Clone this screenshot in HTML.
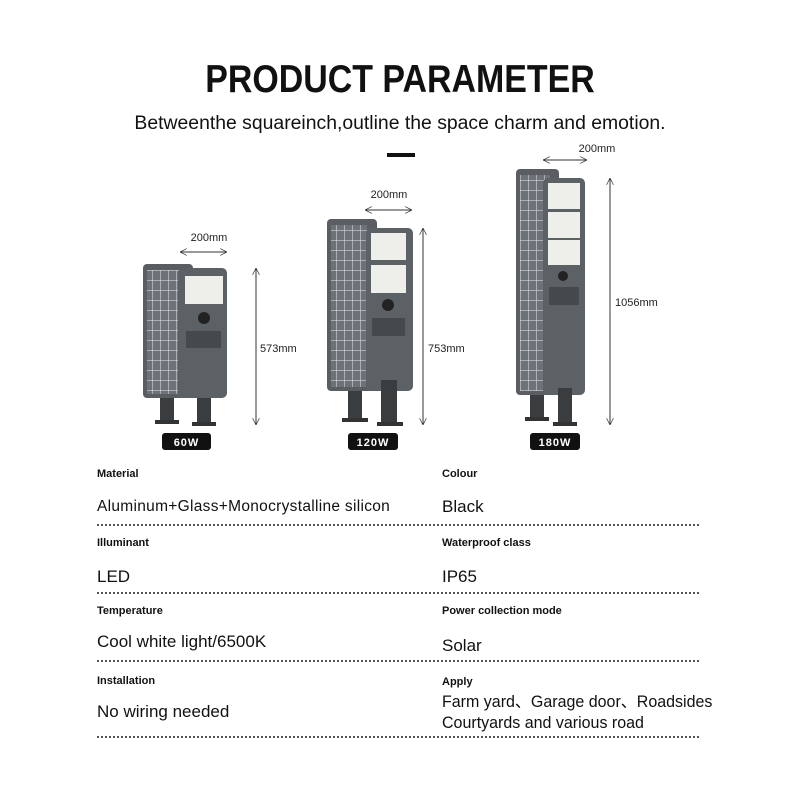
<!DOCTYPE html>
<html><head><meta charset="utf-8"><style>
body{margin:0;width:800px;height:800px;background:#fff;position:relative;overflow:hidden;font-family:"Liberation Sans",sans-serif;color:#111}
.a{position:absolute;white-space:nowrap}
.t{left:0;width:800px;text-align:center}
.lb{font-size:11px;font-weight:bold}
.v{font-size:17px}
.dl{position:absolute;left:97px;width:602px;border-top:2px dotted #555;height:0}
</style></head><body>
<div class="a t" style="top:58px;font-size:39px;font-weight:bold;transform:scaleX(0.87)">PRODUCT PARAMETER</div>
<div class="a t" style="top:113px;font-size:19px;transform:scaleX(1.02)">Betweenthe squareinch,outline the space charm and emotion.</div>
<div class="a" style="left:387px;top:153px;width:28px;height:4px;background:#111"></div>

<svg class="a" style="left:0;top:0" width="800" height="460" viewBox="0 0 800 460">
<defs>
<pattern id="g" width="8" height="10" patternUnits="userSpaceOnUse"><rect width="8" height="10" fill="#6d7278"/><path d="M0 0H8M0 0V10" stroke="#e6e8ea" stroke-width="1"/></pattern>
<marker id="ar" viewBox="0 0 10 10" refX="10" refY="5" markerWidth="7" markerHeight="7" orient="auto-start-reverse"><path d="M0 0L10 5L0 10" fill="none" stroke="#333"/></marker>
</defs>
<g font-size="11" fill="#222" stroke="none">
<rect x="143" y="264" width="50" height="134" rx="4" fill="#5a5e63"/><rect x="147" y="270" width="38" height="124" fill="url(#g)"/>
<rect x="160" y="398" width="14" height="24" fill="#3a3d40"/><rect x="155" y="420" width="24" height="4" fill="#333"/>
<rect x="178" y="268" width="49" height="130" rx="5" fill="#5c6166"/>
<rect x="185" y="276" width="38" height="28" fill="#eeeeea"/><circle cx="204" cy="318" r="6" fill="#222"/><rect x="186" y="331" width="35" height="17" fill="#45484c"/>
<rect x="197" y="398" width="14" height="27" fill="#3a3d40"/><rect x="192" y="422" width="24" height="4" fill="#333"/>
<rect x="162" y="433" width="49" height="17" rx="3" fill="#111"/><text x="186.5" y="446" text-anchor="middle" fill="#fff" font-weight="bold" font-size="11" letter-spacing="1">60W</text>
<line x1="180" y1="252" x2="227" y2="252" stroke="#333" marker-start="url(#ar)" marker-end="url(#ar)"/><text x="209" y="241" text-anchor="middle">200mm</text>
<line x1="256" y1="268" x2="256" y2="425" stroke="#333" marker-start="url(#ar)" marker-end="url(#ar)"/><text x="260" y="352">573mm</text>
<rect x="327" y="219" width="50" height="172" rx="4" fill="#5a5e63"/><rect x="331" y="225" width="36" height="162" fill="url(#g)"/>
<rect x="348" y="391" width="14" height="30" fill="#3a3d40"/><rect x="342" y="418" width="26" height="4" fill="#333"/>
<rect x="366" y="228" width="47" height="163" rx="5" fill="#5c6166"/>
<rect x="371" y="233" width="35" height="27" fill="#eeeeea"/><rect x="371" y="265" width="35" height="28" fill="#eeeeea"/><circle cx="388" cy="305" r="6" fill="#222"/><rect x="372" y="318" width="33" height="18" fill="#45484c"/>
<rect x="381" y="380" width="16" height="45" fill="#3a3d40"/><rect x="377" y="422" width="26" height="4" fill="#333"/>
<rect x="348" y="433" width="50" height="17" rx="3" fill="#111"/><text x="373" y="446" text-anchor="middle" fill="#fff" font-weight="bold" font-size="11" letter-spacing="1">120W</text>
<line x1="365" y1="210" x2="412" y2="210" stroke="#333" marker-start="url(#ar)" marker-end="url(#ar)"/><text x="389" y="198" text-anchor="middle">200mm</text>
<line x1="423" y1="228" x2="423" y2="425" stroke="#333" marker-start="url(#ar)" marker-end="url(#ar)"/><text x="428" y="352">753mm</text>
<rect x="516" y="169" width="43" height="226" rx="4" fill="#5a5e63"/><rect x="520" y="175" width="30" height="216" fill="url(#g)"/>
<rect x="530" y="395" width="14" height="24" fill="#3a3d40"/><rect x="525" y="417" width="24" height="4" fill="#333"/>
<rect x="543" y="178" width="42" height="217" rx="5" fill="#5c6166"/>
<rect x="548" y="183" width="32" height="26" fill="#eeeeea"/><rect x="548" y="212" width="32" height="26" fill="#eeeeea"/><rect x="548" y="240" width="32" height="25" fill="#eeeeea"/>
<circle cx="563" cy="276" r="5" fill="#222"/><rect x="549" y="287" width="30" height="18" fill="#45484c"/>
<rect x="558" y="388" width="14" height="37" fill="#3a3d40"/><rect x="553" y="422" width="24" height="4" fill="#333"/>
<rect x="530" y="433" width="50" height="17" rx="3" fill="#111"/><text x="555" y="446" text-anchor="middle" fill="#fff" font-weight="bold" font-size="11" letter-spacing="1">180W</text>
<line x1="543" y1="160" x2="587" y2="160" stroke="#333" marker-start="url(#ar)" marker-end="url(#ar)"/><text x="597" y="152" text-anchor="middle">200mm</text>
<line x1="610" y1="178" x2="610" y2="425" stroke="#333" marker-start="url(#ar)" marker-end="url(#ar)"/><text x="615" y="306">1056mm</text>
</g></svg>

<div class="a lb" style="left:97px;top:468px">Material</div>
<div class="a lb" style="left:442px;top:468px">Colour</div>
<div class="a" style="left:97px;top:498px;font-size:15.5px;letter-spacing:0.3px">Aluminum+Glass+Monocrystalline silicon</div>
<div class="a v" style="left:442px;top:497px">Black</div>
<div class="dl" style="top:524px"></div>
<div class="a lb" style="left:97px;top:537px">Illuminant</div>
<div class="a lb" style="left:442px;top:537px">Waterproof class</div>
<div class="a v" style="left:97px;top:567px">LED</div>
<div class="a v" style="left:442px;top:567px">IP65</div>
<div class="dl" style="top:592px"></div>
<div class="a lb" style="left:97px;top:605px">Temperature</div>
<div class="a lb" style="left:442px;top:605px">Power collection mode</div>
<div class="a v" style="left:97px;top:632px">Cool white light/6500K</div>
<div class="a v" style="left:442px;top:636px">Solar</div>
<div class="dl" style="top:660px"></div>
<div class="a lb" style="left:97px;top:675px">Installation</div>
<div class="a lb" style="left:442px;top:676px">Apply</div>
<div class="a v" style="left:97px;top:702px">No wiring needed</div>
<div class="a" style="left:442px;top:692px;line-height:21px;font-size:16.5px;transform-origin:left top;transform:scaleX(0.97)">Farm yard、Garage door、Roadsides<br>Courtyards and various road</div>
<div class="dl" style="top:736px"></div>
</body></html>
